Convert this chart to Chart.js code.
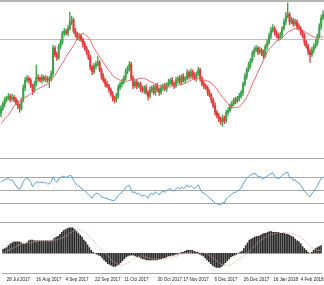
<!DOCTYPE html>
<html lang="en">
<head>
  <meta charset="UTF-8" />
  <title>XAUUSD Daily</title>
  <script src="https://cdn.jsdelivr.net/npm/chart.js"></script>
  <style>
    body {
      margin: 0;
      background: #fff;
      width: 324px;
      overflow: hidden;
    }
    canvas { display: block; }
    .sep { height: 1px; background: #a6a6a6; }
    .top { height: 2px; background: #b4b4b4; }
  </style>
</head>
<body>
  <div class="top"></div>
  <canvas id="price" width="324" height="156"></canvas>
  <div class="sep"></div>
  <canvas id="rsi" width="324" height="63"></canvas>
  <div class="sep"></div>
  <canvas id="macd" width="324" height="62"></canvas>

  <script>
    // daily bars, Jul 2017 - Feb 2018
    const tickLabels = ["28 Jul 2017", "16 Aug 2017", "4 Sep 2017", "22 Sep 2017", "11 Oct 2017", "30 Oct 2017",
      "17 Nov 2017", "6 Dec 2017", "26 Dec 2017", "16 Jan 2018", "4 Feb 2018"];
    const tickBars = [2, 18, 34, 50, 66, 84, 98, 115, 131, 147, 162];

    const opens = [
      1250,1255,1260,1264,1266,1268,1265,1267,1265,1261,
      1258,1255,1264,1277,1285,1287,1285,1279,1274,1281,
      1288,1287,1285,1288,1286,1287,1285,1286,1292,1319,
      1312,1309,1321,1325,1335,1337,1335,1340,1347,1349,
      1337,1334,1330,1332,1328,1323,1319,1315,1309,1299,
      1294,1300,1302,1304,1296,1289,1285,1281,1279,1275,
      1270,1266,1264,1269,1277,1281,1283,1288,1294,1298,
      1302,1287,1279,1283,1279,1281,1276,1274,1277,1272,
      1268,1275,1277,1272,1279,1275,1272,1277,1279,1276,
      1280,1283,1285,1281,1279,1285,1287,1283,1289,1285,
      1287,1293,1289,1294,1290,1287,1292,1296,1287,1281,
      1279,1277,1272,1269,1264,1258,1251,1247,1244,1241,
      1245,1242,1251,1253,1258,1260,1264,1263,1266,1268,
      1272,1281,1289,1296,1301,1306,1313,1317,1319,1315,
      1317,1314,1311,1321,1325,1332,1338,1340,1336,1332,
      1330,1333,1340,1347,1353,1355,1347,1349,1345,1347,
      1342,1340,1336,1332,1325,1321,1315,1312,1317,1321,
      1325,1332,1342,1351
    ];
    const highs = [
      1258,1262,1267,1268,1271,1270,1270,1269,1267,1264,
      1260,1266,1280,1288,1290,1289,1287,1281,1284,1301,
      1291,1289,1291,1290,1290,1289,1289,1295,1322,1321,
      1315,1323,1328,1337,1340,1339,1343,1357,1353,1351,
      1340,1336,1335,1334,1330,1326,1321,1317,1312,1301,
      1303,1305,1310,1306,1298,1292,1287,1284,1281,1277,
      1273,1268,1271,1280,1283,1286,1290,1297,1300,1305,
      1304,1290,1285,1286,1283,1283,1279,1279,1280,1274,
      1278,1279,1280,1281,1282,1277,1280,1281,1282,1282,
      1286,1287,1288,1283,1288,1289,1290,1291,1292,1289,
      1296,1295,1297,1296,1293,1294,1299,1298,1289,1284,
      1281,1279,1275,1271,1266,1261,1253,1250,1246,1248,
      1247,1253,1256,1260,1263,1266,1267,1268,1271,1274,
      1283,1292,1298,1304,1308,1316,1320,1322,1321,1320,
      1319,1317,1323,1328,1335,1341,1344,1342,1338,1335,
      1336,1342,1350,1357,1367,1357,1352,1351,1350,1349,
      1345,1342,1338,1335,1327,1323,1318,1320,1323,1328,
      1334,1345,1354,1359
    ];
    const lows = [
      1246,1253,1257,1262,1264,1262,1263,1262,1259,1255,
      1251,1253,1262,1274,1283,1282,1277,1270,1272,1279,
      1284,1283,1282,1284,1283,1283,1277,1284,1289,1310,
      1306,1307,1318,1323,1332,1333,1332,1338,1344,1335,
      1331,1328,1327,1326,1320,1317,1312,1307,1296,1291,
      1292,1297,1300,1294,1286,1283,1278,1277,1272,1268,
      1263,1261,1262,1266,1275,1278,1281,1285,1292,1295,
      1285,1276,1277,1276,1277,1273,1272,1271,1270,1264,
      1266,1272,1270,1269,1273,1269,1270,1274,1274,1273,
      1278,1280,1279,1276,1277,1282,1281,1280,1283,1282,
      1285,1286,1287,1287,1285,1284,1290,1284,1279,1276,
      1275,1269,1267,1261,1256,1248,1245,1241,1238,1236,
      1239,1240,1248,1251,1255,1258,1260,1261,1263,1266,
      1269,1279,1286,1294,1298,1304,1310,1315,1312,1313,
      1311,1308,1309,1318,1323,1329,1336,1333,1330,1327,
      1328,1330,1338,1344,1351,1344,1345,1342,1343,1339,
      1338,1333,1330,1322,1319,1312,1304,1310,1314,1319,
      1322,1330,1339,1349
    ];
    const closes = [
      1255,1260,1264,1266,1268,1265,1267,1265,1261,1258,
      1255,1264,1277,1285,1287,1285,1279,1274,1281,1288,
      1287,1285,1288,1286,1287,1285,1286,1292,1319,1312,
      1309,1321,1325,1335,1337,1335,1340,1347,1349,1337,
      1334,1330,1332,1328,1323,1319,1315,1309,1299,1294,
      1300,1302,1304,1296,1289,1285,1281,1279,1275,1270,
      1266,1264,1269,1277,1281,1283,1288,1294,1298,1302,
      1287,1279,1283,1279,1281,1276,1274,1277,1272,1268,
      1275,1277,1272,1279,1275,1272,1277,1279,1276,1280,
      1283,1285,1281,1279,1285,1287,1283,1289,1285,1287,
      1293,1289,1294,1290,1287,1292,1296,1287,1281,1279,
      1277,1272,1269,1264,1258,1251,1247,1244,1241,1245,
      1242,1251,1253,1258,1260,1264,1263,1266,1268,1272,
      1281,1289,1296,1301,1306,1313,1317,1319,1315,1317,
      1314,1311,1321,1325,1332,1338,1340,1336,1332,1330,
      1333,1340,1347,1353,1355,1347,1349,1345,1347,1342,
      1340,1336,1332,1325,1321,1315,1312,1317,1321,1325,
      1332,1342,1351,1355
    ];
    // moving average (red line)
    const ma = [
      1239,1241,1244,1246,1248,1251,1254,1258,1259,1261,
      1263,1264,1266,1267,1268,1269,1271,1272,1274,1275,
      1276,1277,1278,1279,1280,1281,1283,1285,1288,1290,
      1294,1297,1300,1303,1306,1310,1313,1316,1319,1322,
      1325,1330,1332,1334,1335,1334,1332,1330,1327,1323,
      1319,1316,1313,1310,1307,1304,1301,1298,1295,1293,
      1290,1288,1287,1286,1285,1284,1284,1284,1284,1285,
      1285,1285,1286,1286,1287,1287,1287,1287,1286,1285,
      1284,1283,1282,1281,1280,1279,1279,1278,1278,1278,
      1278,1278,1279,1279,1279,1280,1280,1281,1281,1282,
      1283,1284,1285,1286,1286,1287,1287,1286,1286,1285,
      1285,1284,1283,1282,1280,1278,1276,1272,1270,1267,
      1265,1262,1260,1257,1257,1256,1256,1256,1257,1259,
      1261,1264,1267,1271,1276,1281,1285,1289,1294,1298,
      1302,1306,1311,1315,1318,1320,1322,1324,1327,1328,
      1329,1330,1332,1334,1336,1337,1338,1339,1340,1340,
      1340,1339,1338,1337,1335,1334,1333,1332,1331,1330,
      1330,1330,1331,1331
    ];
    const rsi = [
      63,66,67,68,69,66,67,63,58,54,
      52,57,64,68,70,68,63,56,60,64,
      63,62,64,62,63,60,61,64,72,66,
      63,68,70,73,72,71,72,74,73,66,
      62,58,57,54,52,49,47,44,40,38,
      43,45,46,43,40,39,38,37,36,35,
      34,34,38,42,45,47,51,55,57,58,
      51,46,48,44,46,42,41,43,40,38,
      44,46,43,48,45,43,47,49,47,50,
      52,53,50,49,53,55,52,56,53,55,
      59,55,58,55,53,56,59,52,47,46,
      44,41,39,36,33,30,29,28,27,31,
      30,37,39,42,44,47,47,49,51,54,
      60,65,69,72,75,76,77,76,72,73,
      70,68,71,73,75,77,78,73,70,69,
      71,74,76,78,79,70,71,66,67,63,
      62,58,54,49,46,42,40,45,49,53,
      58,64,69,71
    ];
    const macd = [
      4,5,6,8,10,11,12,12,12,12,
      11,10,10,11,13,14,14,13,13,13,
      13,13,13,13,13,13,13,14,16,17,
      18,20,22,24,25,26,27,27,27,25,
      23,21,19,17,14,12,9,6,3,1,
      0,-1,-2,-3,-5,-7,-9,-11,-12,-13,
      -14,-14,-13,-12,-10,-8,-6,-4,-3,-2,
      -2,-2,-3,-4,-4,-5,-6,-6,-7,-7,
      -7,-7,-7,-7,-7,-6,-6,-5,-5,-4,
      -3,-3,-2,-2,-1,-1,0,1,1,2,
      3,3,3,3,2,1,1,-1,-2,-3,
      -5,-7,-9,-11,-13,-14,-15,-15,-15,-14,
      -12,-10,-8,-6,-4,-3,-2,-1,0,1,
      2,5,8,11,14,15,16,17,18,18,
      19,20,21,21,22,23,23,22,22,22,
      22,21,21,21,20,20,19,18,17,15,
      13,12,10,7,5,3,1,0,1,3,
      5,6,7,8
    ];
    const signal = [
      0,1,2,3,4,5,6,7,8,9,
      10,10,11,11,11,11,12,12,12,12,
      13,13,13,13,13,13,13,13,14,14,
      15,15,16,17,18,19,21,22,23,24,
      25,25,25,24,23,21,20,18,16,14,
      11,9,7,5,3,1,-1,-3,-5,-7,
      -9,-10,-11,-12,-13,-13,-12,-11,-10,-9,
      -7,-6,-5,-4,-3,-3,-3,-4,-4,-5,
      -5,-6,-6,-6,-6,-7,-7,-6,-6,-6,
      -5,-5,-4,-4,-3,-3,-2,-1,-1,0,
      0,1,1,2,2,2,2,2,1,1,
      0,-1,-2,-3,-5,-6,-8,-9,-11,-12,
      -13,-13,-13,-13,-12,-11,-10,-8,-7,-5,
      -4,-3,-1,0,2,4,6,8,10,12,
      13,15,16,17,18,19,20,20,21,21,
      22,22,22,22,22,21,21,21,20,20,
      19,18,17,15,14,12,10,8,6,5,
      4,3,3,3
    ];
    const priceLevels = [1328];
    const rsiLevels = [30, 50, 70];

    const categories = closes.map(() => "");
    tickBars.forEach((b, k) => { categories[b] = tickLabels[k]; });

    const bull = "#3da24a";
    const bear = "#e23a3a";
    const candleColors = closes.map((c, i) => c >= opens[i] ? bull : bear);

    const hiddenX = { type: "category", offset: true, display: false };
    const basePlugins = { legend: { display: false }, tooltip: { enabled: false } };

    function levelAxis(min, max, levels, color) {
      return {
        min: min,
        max: max,
        ticks: { display: false },
        border: { display: false },
        grid: { drawTicks: false, color: color, lineWidth: 1 },
        afterBuildTicks: axis => { axis.ticks = levels.map(v => ({ value: v })); }
      };
    }

    new Chart(document.getElementById("price"), {
      type: "bar",
      data: {
        labels: categories,
        datasets: [
          {
            type: "line",
            data: ma,
            borderColor: "#e46a66",
            borderWidth: 1,
            pointRadius: 0,
            order: 0
          },
          {
            data: opens.map((o, i) => [Math.min(o, closes[i]), Math.max(o, closes[i])]),
            backgroundColor: candleColors,
            barThickness: 1.4,
            grouped: false,
            order: 1
          },
          {
            data: lows.map((l, i) => [l, highs[i]]),
            backgroundColor: candleColors,
            barThickness: 0.7,
            grouped: false,
            order: 2
          }
        ]
      },
      options: {
        responsive: false,
        animation: false,
        layout: { padding: 0 },
        plugins: basePlugins,
        scales: {
          x: hiddenX,
          y: levelAxis(1202.5, 1368, priceLevels, "#c2c2c2")
        }
      }
    });

    new Chart(document.getElementById("rsi"), {
      type: "line",
      data: {
        labels: categories,
        datasets: [{
          data: rsi,
          borderColor: "#5a9fd6",
          borderWidth: 1,
          pointRadius: 0
        }]
      },
      options: {
        responsive: false,
        animation: false,
        layout: { padding: 0 },
        plugins: basePlugins,
        scales: {
          x: hiddenX,
          y: levelAxis(0, 100, rsiLevels, "#a8a8a8")
        }
      }
    });

    new Chart(document.getElementById("macd"), {
      type: "bar",
      data: {
        labels: categories,
        datasets: [
          {
            type: "line",
            data: signal,
            borderColor: "#e6a3a3",
            borderWidth: 1,
            borderDash: [1, 1],
            pointRadius: 0,
            order: 0
          },
          {
            data: macd,
            backgroundColor: "#2a2a2a",
            barThickness: 1,
            order: 1
          }
        ]
      },
      options: {
        responsive: false,
        animation: false,
        layout: { padding: 0 },
        plugins: basePlugins,
        scales: {
          x: {
            type: "category",
            offset: true,
            grid: { display: false, drawTicks: false },
            border: { display: true, color: "#a6a6a6" },
            ticks: {
              autoSkip: false,
              maxRotation: 0,
              minRotation: 0,
              align: "start",
              padding: 3,
              color: "#222",
              font: { family: "Liberation Sans", size: 4.5 },
              callback: function (v) { return this.getLabelForValue(v); }
            }
          },
          y: { display: false, min: -21.6, max: 32 }
        }
      }
    });
  </script>
</body>
</html>
